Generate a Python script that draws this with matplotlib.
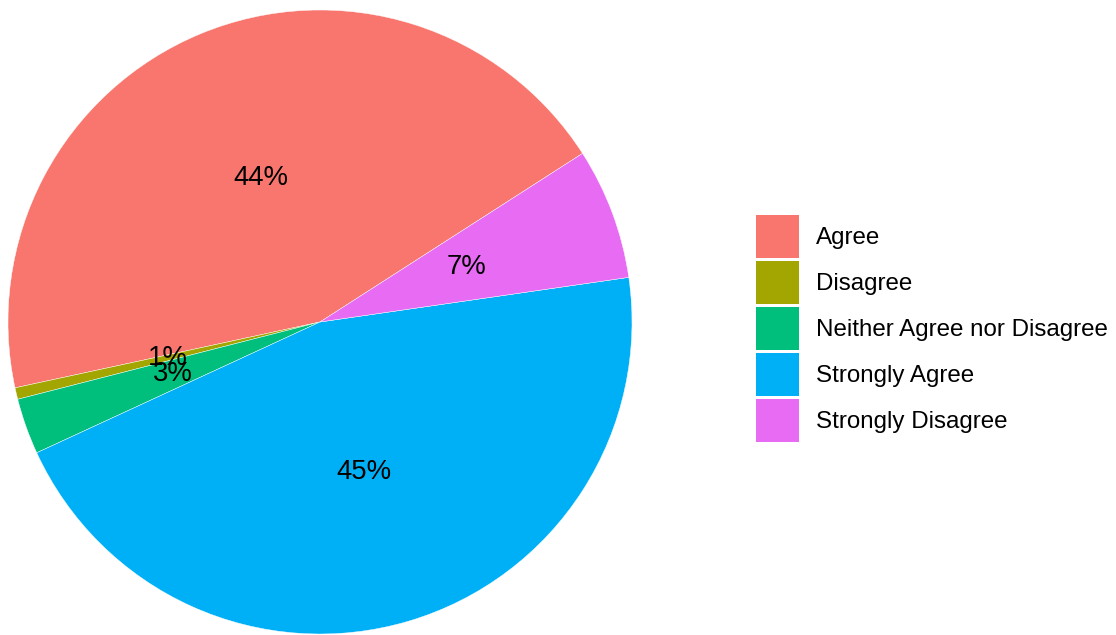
import numpy as np
import matplotlib.pyplot as plt

plt.rcParams['font.family'] = ['Liberation Sans', 'DejaVu Sans']

# response shares (percent), in factor order
responses = ['Agree', 'Disagree', 'Neither Agree nor Disagree', 'Strongly Agree', 'Strongly Disagree']
share = [44.3, 0.6, 2.9, 45.4, 6.8]
colors = ['#F8766D', '#A3A500', '#00BF7D', '#00B0F6', '#E76BF3']

fig = plt.figure(figsize=(11.16, 6.35), dpi=100)
ax = fig.add_axes([8 / 1116, 1 / 635, 624 / 1116, 624 / 635])

# polar start of 1 radian, measured clockwise from 12 o'clock
start = 90 - np.degrees(1)
wedges, texts, autotexts = ax.pie(
    share, colors=colors, startangle=start, counterclock=True,
    radius=1, autopct=lambda p: f'{p:.0f}%', pctdistance=0.5,
    wedgeprops=dict(linewidth=0.3, edgecolor='white'),
    textprops=dict(fontsize=19.8, color='black'))
ax.set_xlim(-1, 1)
ax.set_ylim(-1, 1)
ax.set_aspect('equal')
ax.axis('off')

# legend with square keys
leg = fig.legend(wedges, responses, loc='upper left',
                 bbox_to_anchor=(756 / 1116, 1 - 215 / 635), frameon=False,
                 fontsize=17.4, handlelength=1.78, handleheight=2.36,
                 handletextpad=0.7, labelspacing=0.12, borderpad=0,
                 borderaxespad=0)
for h in leg.legend_handles:
    h.set_linewidth(0)

fig.savefig('out.png', dpi=100)
